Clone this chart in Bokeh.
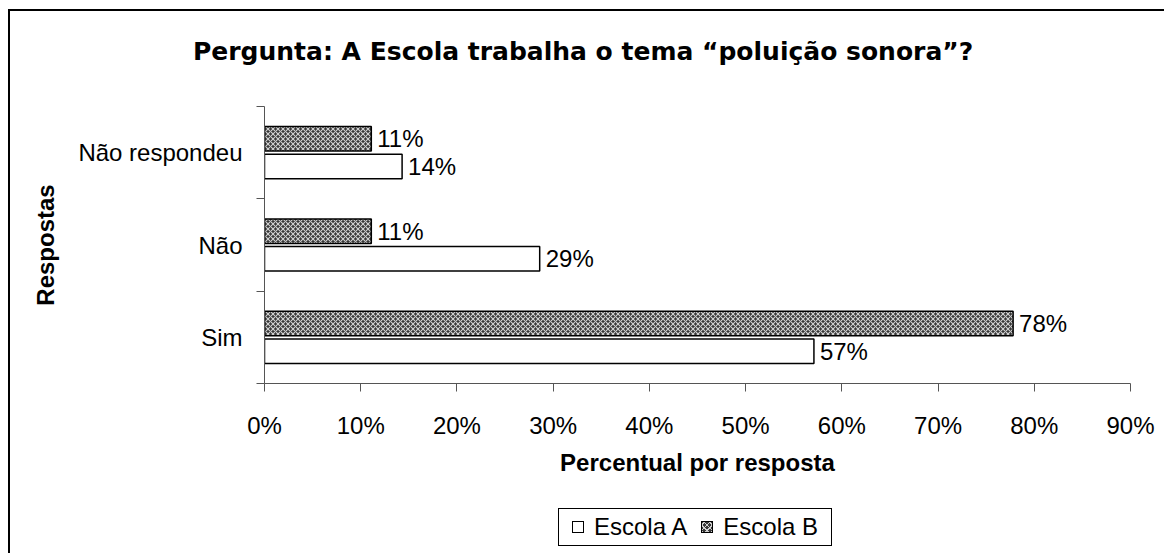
from bokeh.plotting import figure
from bokeh.models import (FixedTicker, NumeralTickFormatter, Range1d,
                          ColumnDataSource, Div)
from bokeh.layouts import column
from bokeh.embed import file_html
from bokeh.resources import INLINE
from bokeh.core.properties import value

# ---- data ----
categories = ["Sim", "Não", "Não respondeu"]
escola_a = [0.571, 0.286, 0.143]
escola_b = [0.778, 0.111, 0.111]
x_ticks = [0.0, 0.1, 0.2, 0.3, 0.4, 0.5, 0.6, 0.7, 0.8, 0.9]
series_names = ["Escola A", "Escola B"]
title_text = "Pergunta: A Escola trabalha o tema \u201cpolui\u00e7\u00e3o sonora\u201d?"
x_title = "Percentual por resposta"
y_title = "Respostas"

FONT = "Liberation Sans"
W = 1154
TITLE_H = 70
H = 410
LEG_H = 62

centers = [i + 0.5 for i in range(len(categories))]
bounds = [float(i) for i in range(len(categories) + 1)]
off, bh = 0.15, 0.265

src_a = ColumnDataSource(dict(
    y=[c - off for c in centers], x=escola_a,
    lab=[f"{round(v * 100)}%" for v in escola_a]))
src_b = ColumnDataSource(dict(
    y=[c + off for c in centers], x=escola_b,
    lab=[f"{round(v * 100)}%" for v in escola_b]))

# title (HTML block above the chart)
title_html = (
    f'<div style="position:relative;width:{W}px;height:{TITLE_H}px;">'
    f'<div style="position:absolute;left:183px;top:26px;white-space:nowrap;'
    f'font-family:\'DejaVu Sans\';font-weight:bold;font-size:25px;'
    f'line-height:30px;color:#000;">{title_text}</div></div>')
ttl = Div(text=title_html, width=W, height=TITLE_H, margin=0)

p = figure(width=W, height=H, output_backend="svg", toolbar_location=None,
           x_range=Range1d(0, x_ticks[-1]), y_range=Range1d(0, len(categories)),
           min_border_left=254, min_border_right=W - 1120,
           min_border_top=95 - TITLE_H,
           min_border_bottom=H - (372 - TITLE_H))
p.outline_line_color = None
p.xgrid.visible = False
p.ygrid.visible = False
p.background_fill_color = "white"
p.border_fill_color = "white"

rb = p.hbar(y="y", right="x", left=0, height=bh, source=src_b,
            fill_color="#383838", line_color="black", line_width=1.5,
            hatch_pattern="diagonal_cross", hatch_color="#cfcfcf",
            hatch_scale=5, hatch_weight=1.1)
ra = p.hbar(y="y", right="x", left=0, height=bh, source=src_a,
            fill_color="white", line_color="black", line_width=1.5)

for s in (src_a, src_b):
    p.text(x="x", y="y", text="lab", source=s, x_offset=6,
           text_baseline="middle", text_align="left",
           text_font=value(FONT), text_font_size="24px", text_color="black")

# x axis
xa = p.xaxis[0]
xa.ticker = FixedTicker(ticks=x_ticks, minor_ticks=[])
xa.formatter = NumeralTickFormatter(format="0%")
xa.major_tick_out = 8
xa.major_tick_in = 0
xa.axis_line_color = "#555555"
xa.major_tick_line_color = "#555555"
xa.major_label_text_font = FONT
xa.major_label_text_font_size = "24px"
xa.major_label_text_color = "black"
xa.major_label_standoff = 20
xa.axis_label = x_title
xa.axis_label_text_font = FONT
xa.axis_label_text_font_size = "24px"
xa.axis_label_text_font_style = "bold"
xa.axis_label_text_color = "black"
xa.axis_label_standoff = 7

# y axis (labels at band centres, ticks at band boundaries)
ya = p.yaxis[0]
ya.ticker = FixedTicker(ticks=centers, minor_ticks=bounds)
ya.major_label_overrides = {c: cat for c, cat in zip(centers, categories)}
ya.major_tick_out = 0
ya.major_tick_in = 0
ya.minor_tick_out = 8
ya.minor_tick_in = 0
ya.axis_line_color = "#555555"
ya.minor_tick_line_color = "#555555"
ya.major_label_text_font = FONT
ya.major_label_text_font_size = "24px"
ya.major_label_text_color = "black"
ya.major_label_standoff = 14
ya.axis_label = y_title
ya.axis_label_text_font = FONT
ya.axis_label_text_font_size = "24px"
ya.axis_label_text_font_style = "bold"
ya.axis_label_text_color = "black"
ya.axis_label_standoff = 16

# legend (HTML box below the chart)
sw_a = ("display:inline-block;width:12px;height:12px;border:1px solid #000;"
        "background:#fff;margin-right:10px;vertical-align:middle;")
sw_b = ("display:inline-block;width:12px;height:12px;border:1px solid #000;"
        "background-color:#383838;"
        "background-image:repeating-linear-gradient(45deg,#cfcfcf 0 1px,transparent 1px 4px),"
        "repeating-linear-gradient(-45deg,#cfcfcf 0 1px,transparent 1px 4px);"
        "margin-left:14px;margin-right:10px;vertical-align:middle;")
legend_html = (
    f'<div style="position:relative;width:{W}px;height:{LEG_H}px;">'
    f'<div style="position:absolute;left:548px;top:17px;width:274px;height:38px;'
    f'border:1px solid #000;background:#fff;display:flex;align-items:center;'
    f'justify-content:center;font-family:\'{FONT}\';font-size:24px;color:#000;'
    f'white-space:nowrap;line-height:1;">'
    f'<span style="{sw_a}"></span><span>{series_names[0]}</span>'
    f'<span style="{sw_b}"></span><span>{series_names[1]}</span>'
    f'</div></div>')
leg = Div(text=legend_html, width=W, height=LEG_H, margin=0)

layout = column(ttl, p, leg, spacing=0)
layout.styles = {"margin-left": "8px", "margin-top": "9px",
                 "border-left": "2px solid #000", "border-top": "2px solid #000"}

open("out.html", "w").write(file_html(layout, INLINE))
